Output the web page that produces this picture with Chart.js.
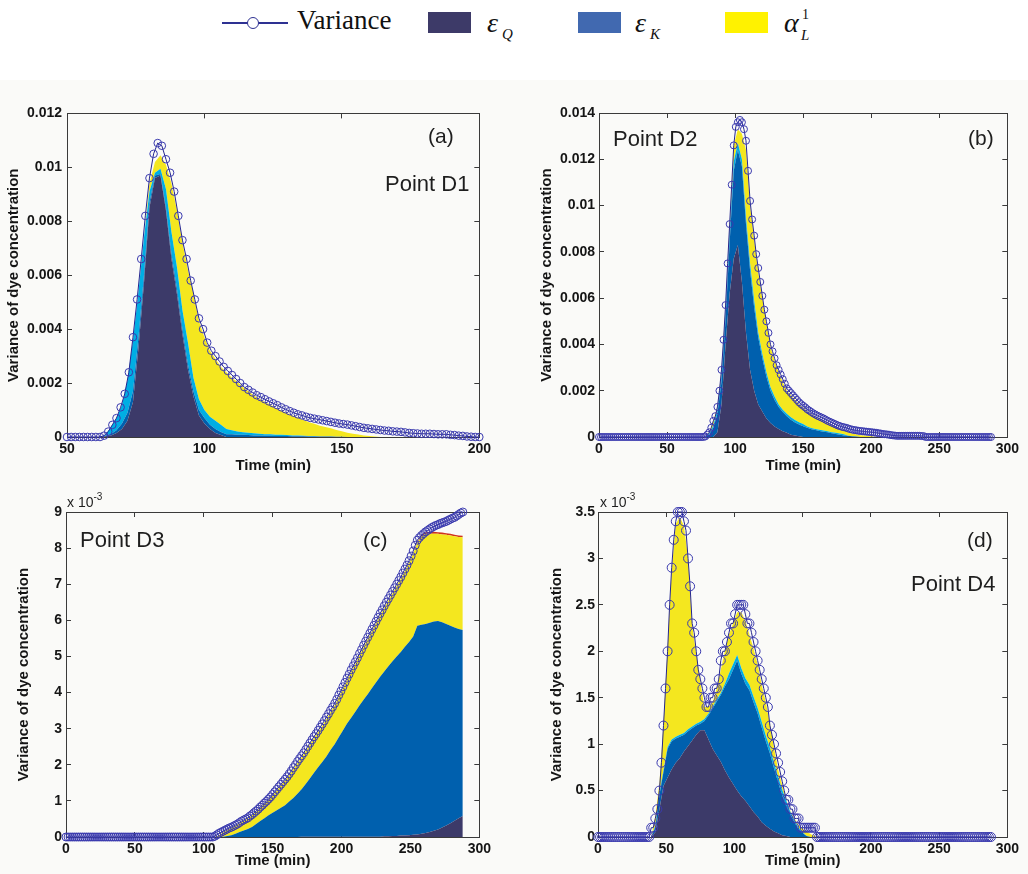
<!DOCTYPE html>
<html>
<head>
<meta charset="utf-8">
<script src="https://cdn.jsdelivr.net/npm/chart.js@4.4.1/dist/chart.umd.min.js"></script>
<style>
  body { margin:0; width:1028px; height:874px; position:relative; overflow:hidden; background:#ffffff; font-family:"Liberation Sans", Arial, sans-serif; }
  #bg { position:absolute; left:0; top:80px; width:1028px; height:794px; background:#fafaf8; }
  canvas { position:absolute; }
  .lbl { position:absolute; white-space:nowrap; line-height:1; color:#1e1e1e; font-family:"Liberation Sans", Arial, sans-serif; }
  .leg { position:absolute; white-space:nowrap; line-height:1; color:#111; font-family:"Liberation Serif", "Times New Roman", serif; }
  .box { position:absolute; width:43px; height:21px; }
</style>
</head>
<body>
<div id="bg"></div>

<!-- legend -->
<div style="position:absolute;left:222px;top:22px;width:66px;height:2px;background:#2e3192;"></div>
<div style="position:absolute;left:247px;top:17px;width:10px;height:10px;border:1.5px solid #2e3192;border-radius:50%;background:#fff;"></div>
<div class="leg" style="left:297px;top:7px;font-size:27px;">Variance</div>
<div class="box" style="left:428px;top:12px;background:#3d3a68;"></div>
<div class="leg" style="left:487px;top:9px;font-size:28px;font-style:italic;">ε</div>
<div class="leg" style="left:502px;top:27px;font-size:15px;font-style:italic;">Q</div>
<div class="box" style="left:578px;top:12px;background:#4169b0;"></div>
<div class="leg" style="left:635px;top:9px;font-size:28px;font-style:italic;">ε</div>
<div class="leg" style="left:650px;top:27px;font-size:15px;font-style:italic;">K</div>
<div class="box" style="left:725px;top:12px;background:#fff200;"></div>
<div class="leg" style="left:784px;top:9px;font-size:28px;font-style:italic;">α</div>
<div class="leg" style="left:802px;top:8px;font-size:14px;">1</div>
<div class="leg" style="left:801px;top:28px;font-size:15px;font-style:italic;">L</div>

<canvas id="ca" width="500" height="385" style="left:0px;top:95px;"></canvas>
<canvas id="cb" width="508" height="385" style="left:520px;top:95px;"></canvas>
<canvas id="cc" width="500" height="384" style="left:0px;top:490px;"></canvas>
<canvas id="cd" width="508" height="384" style="left:520px;top:490px;"></canvas>

<!-- panel labels -->
<div class="lbl" style="left:428px;top:125px;font-size:21px;">(a)</div>
<div class="lbl" style="left:385px;top:173px;font-size:22px;">Point D1</div>
<div class="lbl" style="left:613px;top:128px;font-size:22px;">Point D2</div>
<div class="lbl" style="left:968px;top:127px;font-size:21px;">(b)</div>
<div class="lbl" style="left:80px;top:529px;font-size:22px;">Point D3</div>
<div class="lbl" style="left:363px;top:529px;font-size:21px;">(c)</div>
<div class="lbl" style="left:967px;top:529px;font-size:21px;">(d)</div>
<div class="lbl" style="left:911px;top:573px;font-size:22px;">Point D4</div>
<div class="lbl" style="left:67px;top:495px;font-size:14px;">x 10<span style="position:relative;top:-7px;font-size:10px;">-3</span></div>
<div class="lbl" style="left:600px;top:495px;font-size:14px;">x 10<span style="position:relative;top:-7px;font-size:10px;">-3</span></div>

<script>
// ================= DATA =================
// ---- Variance (markers), sampled every 1.5 min ----
const timesVarA = [
  50,51.5,53,54.5,56,57.5,59,60.5,62,63.5,
  65,66.5,68,69.5,71,72.5,74,75.5,77,78.5,
  80,81.5,83,84.5,86,87.5,89,90.5,92,93.5,
  95,96.5,98,99.5,101,102.5,104,105.5,107,108.5,
  110,111.5,113,114.5,116,117.5,119,120.5,122,123.5,
  125,126.5,128,129.5,131,132.5,134,135.5,137,138.5,
  140,141.5,143,144.5,146,147.5,149,150.5,152,153.5,
  155,156.5,158,159.5,161,162.5,164,165.5,167,168.5,
  170,171.5,173,174.5,176,177.5,179,180.5,182,183.5,
  185,186.5,188,189.5,191,192.5,194,195.5,197,198.5,
  200];
const varianceA = [
  0,0,0,0,0,0,0,0,0,0.00005,
  0.0002,0.00045,0.0007,0.0011,0.0016,0.0024,0.0037,0.0051,0.0066,0.0082,
  0.0096,0.0105,0.0109,0.0108,0.0103,0.0098,0.0091,0.0082,0.0073,0.0066,
  0.0058,0.0051,0.0044,0.0040,0.0035,0.0032,0.0030,0.0028,0.0026,0.00245,
  0.0023,0.00215,0.002,0.00185,0.00175,0.00165,0.00155,0.00148,0.0014,0.00132,
  0.00125,0.00118,0.0011,0.00103,0.00096,0.0009,0.00084,0.0008,0.00075,0.00071,
  0.00068,0.00065,0.00062,0.00059,0.00056,0.00053,0.0005,0.00048,0.00046,0.00043,
  0.0004,0.00037,0.00034,0.00032,0.0003,0.00028,0.00026,0.00024,0.00023,0.00021,
  0.0002,0.00019,0.00017,0.00015,0.00014,0.00013,0.00012,0.00012,0.00012,0.00011,
  0.0001,0.0001,0.0001,0.00008,0.00007,0.00005,0.00004,0.00002,0.00001,0,
  0];

const timesVarBCD = [
  0,1.5,3,4.5,6,7.5,9,10.5,12,13.5,
  15,16.5,18,19.5,21,22.5,24,25.5,27,28.5,
  30,31.5,33,34.5,36,37.5,39,40.5,42,43.5,
  45,46.5,48,49.5,51,52.5,54,55.5,57,58.5,
  60,61.5,63,64.5,66,67.5,69,70.5,72,73.5,
  75,76.5,78,79.5,81,82.5,84,85.5,87,88.5,
  90,91.5,93,94.5,96,97.5,99,100.5,102,103.5,
  105,106.5,108,109.5,111,112.5,114,115.5,117,118.5,
  120,121.5,123,124.5,126,127.5,129,130.5,132,133.5,
  135,136.5,138,139.5,141,142.5,144,145.5,147,148.5,
  150,151.5,153,154.5,156,157.5,159,160.5,162,163.5,
  165,166.5,168,169.5,171,172.5,174,175.5,177,178.5,
  180,181.5,183,184.5,186,187.5,189,190.5,192,193.5,
  195,196.5,198,199.5,201,202.5,204,205.5,207,208.5,
  210,211.5,213,214.5,216,217.5,219,220.5,222,223.5,
  225,226.5,228,229.5,231,232.5,234,235.5,237,238.5,
  240,241.5,243,244.5,246,247.5,249,250.5,252,253.5,
  255,256.5,258,259.5,261,262.5,264,265.5,267,268.5,
  270,271.5,273,274.5,276,277.5,279,280.5,282,283.5,
  285,286.5,288];
const varianceB = [
  0,0,0,0,0,0,0,0,0,0,
  0,0,0,0,0,0,0,0,0,0,
  0,0,0,0,0,0,0,0,0,0,
  0,0,0,0,0,0,0,0,0,0,
  0,0,0,0,0,0,0,0,0,0,
  0,0,0.00002,0.0001,0.0002,0.0004,0.0007,0.0009,0.0013,0.002,
  0.0029,0.0042,0.0057,0.0075,0.0092,0.0109,0.0126,0.0134,0.0136,0.0137,
  0.0136,0.0133,0.0128,0.0115,0.0102,0.0094,0.0087,0.0079,0.0073,0.0067,
  0.0061,0.0055,0.0050,0.0045,0.0040,0.0037,0.0034,0.0031,0.0029,0.0027,
  0.0025,0.0023,0.0021,0.002,0.0019,0.0018,0.0017,0.0016,0.0015,0.00142,
  0.00135,0.00128,0.0012,0.00114,0.00108,0.00102,0.00097,0.00092,0.00088,0.00084,
  0.0008,0.00075,0.0007,0.00066,0.00062,0.00058,0.00054,0.0005,0.00047,0.00044,
  0.00042,0.0004,0.00037,0.00034,0.00032,0.0003,0.00029,0.00027,0.00026,0.00025,
  0.00024,0.00023,0.00022,0.00021,0.0002,0.00019,0.00018,0.00016,0.00015,0.00013,
  0.00012,0.00011,0.0001,0.00008,0.00007,0.00006,0.00005,0.00005,0.00005,0.00005,
  0.00005,0.00005,0.00005,0.00005,0.00005,0.00005,0.00005,0.00005,0.00004,0.00004,
  0,0,0,0,0,0,0,0,0,0,
  0,0,0,0,0,0,0,0,0,0,
  0,0,0,0,0,0,0,0,0,0,
  0,0,0];
// (values in units of 10^-3)
const varianceC = [
  0,0,0,0,0,0,0,0,0,0,
  0,0,0,0,0,0,0,0,0,0,
  0,0,0,0,0,0,0,0,0,0,
  0,0,0,0,0,0,0,0,0,0,
  0,0,0,0,0,0,0,0,0,0,
  0,0,0,0,0,0,0,0,0,0,
  0,0,0,0,0,0,0,0,0,0,
  0,0,0.02,0.06,0.1,0.13,0.16,0.19,0.22,0.25,
  0.27,0.3,0.33,0.36,0.4,0.44,0.47,0.5,0.53,0.58,
  0.62,0.67,0.72,0.77,0.83,0.88,0.94,0.99,1.05,1.11,
  1.18,1.25,1.32,1.39,1.46,1.53,1.6,1.67,1.75,1.83,
  1.92,2.0,2.09,2.17,2.25,2.33,2.42,2.51,2.6,2.69,
  2.78,2.86,2.95,3.04,3.13,3.22,3.32,3.41,3.51,3.6,
  3.7,3.81,3.93,4.04,4.16,4.28,4.4,4.51,4.63,4.74,
  4.85,4.96,5.08,5.19,5.31,5.42,5.53,5.64,5.75,5.86,
  5.97,6.08,6.19,6.29,6.4,6.5,6.6,6.7,6.8,6.9,
  7.0,7.1,7.2,7.31,7.42,7.53,7.65,7.78,7.92,8.08,
  8.22,8.29,8.35,8.4,8.45,8.49,8.53,8.57,8.6,8.63,
  8.65,8.68,8.7,8.72,8.74,8.77,8.8,8.83,8.85,8.89,
  8.93,8.97,9.0];
// (values in units of 10^-3)
const varianceD = [
  0,0,0,0,0,0,0,0,0,0,
  0,0,0,0,0,0,0,0,0,0,
  0,0,0,0,0,0,0.1,0.1,0.2,0.3,
  0.5,0.8,1.2,1.6,2.0,2.5,2.9,3.2,3.4,3.5,
  3.5,3.5,3.4,3.3,3.0,2.7,2.3,2.2,2.0,1.8,
  1.7,1.6,1.5,1.4,1.4,1.5,1.5,1.6,1.6,1.7,
  1.9,2.0,2.0,2.1,2.2,2.3,2.3,2.4,2.5,2.5,
  2.5,2.5,2.4,2.3,2.3,2.2,2.1,2.0,1.9,1.8,
  1.7,1.6,1.5,1.4,1.2,1.1,1.0,0.9,0.8,0.7,
  0.6,0.5,0.4,0.4,0.3,0.3,0.2,0.2,0.2,0.1,
  0.1,0.1,0.1,0.1,0.1,0.1,0.1,0,0,0,
  0,0,0,0,0,0,0,0,0,0,
  0,0,0,0,0,0,0,0,0,0,
  0,0,0,0,0,0,0,0,0,0,
  0,0,0,0,0,0,0,0,0,0,
  0,0,0,0,0,0,0,0,0,0,
  0,0,0,0,0,0,0,0,0,0,
  0,0,0,0,0,0,0,0,0,0,
  0,0,0,0,0,0,0,0,0,0,
  0,0,0];

// ---- Stacked contributions ----
// Panel (a): Point D1
const timesA = [50,52,54,56,58,60,62,64,66,68,70,72,74,76,78,80,82,84,86,88,90,92,94,96,98,100,102,104,106,108,110,112,114,116,118,120,122,124,126,128,130,132,134,136,138,140,142,144,146,148,150,152,154,156,158,160,162,164,166,168,170,172,174,176,178,180,182,184,186,188,190,192,194,196,198,200];
const epsQA = [0,0,0,0,0,0,0,0.00003,0.00006,0.00015,0.0003,0.0006,0.0013,0.0033,0.0057,0.0085,0.0096,0.0097,0.0084,0.0066,0.0053,0.0038,0.0025,0.0015,0.0008,0.0005,0.0003,0.00015,0.00007,0,0,0,0,0,0,0,0,0,0,0,0,0,0,0,0,0,0,0,0,0,0,0,0,0,0,0,0,0,0,0,0,0,0,0,0,0,0,0,0,0,0,0,0,0,0,0];
const epsKA = [0,0,0,0,0,0,0,0.00002,0.00005,0.0001,0.0002,0.0003,0.0004,0.0004,0.0003,0.0002,0.0001,0.00005,0.0001,0.0002,0.0002,0.0002,0.0002,0.0002,0.0002,0.0002,0.00015,0.00015,0.00012,0.0001,0.0001,0.00008,0.00008,0.00007,0.00006,0.00006,0.00005,0.00005,0.00004,0.00004,0.00004,0.00003,0.00003,0.00003,0.00002,0.00002,0.00002,0.00002,0.00002,0.00001,0.00001,0,0,0,0,0,0,0,0,0,0,0,0,0,0,0,0,0,0,0,0,0,0,0,0,0];
const otherA = [0,0,0,0,0,0,0,0.00003,0.00027,0.00045,0.0007,0.0012,0.0019,0.0017,0.0014,0.0004,0.0001,0.0002,0.0007,0.0008,0.0008,0.0007,0.0008,0.0005,0.0004,0.0003,0.0003,0.0003,0.00026,0.0002,0.00015,0.00012,0.0001,0.00009,0.00008,0.00006,0.00005,0.00005,0.00004,0.00004,0.00003,0.00003,0.00003,0.00002,0.00002,0.00002,0,0,0,0,0,0,0,0,0,0,0,0,0,0,0,0,0,0,0,0,0,0,0,0,0,0,0,0,0,0];
const alphaLA = [0,0,0,0,0,0,0,0,0,0,0,0,0,0,0,0.0003,0.0004,0.0005,0.0009,0.0018,0.0021,0.0025,0.0027,0.0031,0.0029,0.0027,0.00245,0.0023,0.00215,0.0021,0.00195,0.00185,0.00167,0.00154,0.0014,0.0013,0.0012,0.0011,0.001,0.0009,0.00082,0.00074,0.00066,0.00058,0.00051,0.00045,0.0004,0.00035,0.0003,0.00025,0.0002,0.00016,0.00012,0.00009,0.00006,0.00004,0.00002,0,0,0,0,0,0,0,0,0,0,0,0,0,0,0,0,0,0,0];

// Panels (b), (c), (d)
const timesBCD = [0,3,6,9,12,15,18,21,24,27,30,33,36,39,42,45,48,51,54,57,60,63,66,69,72,75,78,81,84,87,90,93,96,99,102,105,108,111,114,117,120,123,126,129,132,135,138,141,144,147,150,153,156,159,162,165,168,171,174,177,180,183,186,189,192,195,198,201,204,207,210,213,216,219,222,225,228,231,234,237,240,243,246,249,252,255,258,261,264,267,270,273,276,279,282,285,288];

// Panel (b): Point D2
const epsQB = [0,0,0,0,0,0,0,0,0,0,0,0,0,0,0,0,0,0,0,0,0,0,0,0,0,0,0,0,0,0.0002,0.0014,0.0040,0.0062,0.0077,0.0083,0.0067,0.0045,0.0029,0.0020,0.0014,0.0011,0.0008,0.0006,0.00045,0.00035,0.00025,0.00018,0.0001,0.00006,0.00003,0,0,0,0,0,0,0,0,0,0,0,0,0,0,0,0,0,0,0,0,0,0,0,0,0,0,0,0,0,0,0,0,0,0,0,0,0,0,0,0,0,0,0,0,0,0,0];
const epsKB = [0,0,0,0,0,0,0,0,0,0,0,0,0,0,0,0,0,0,0,0,0,0,0,0,0,0,0,0.0001,0.0004,0.0008,0.0010,0.0011,0.0022,0.0038,0.0041,0.0050,0.0047,0.0043,0.0036,0.0029,0.0023,0.0018,0.0014,0.00115,0.00095,0.00083,0.00072,0.00065,0.00057,0.00051,0.00046,0.0004,0.00034,0.0003,0.00026,0.00023,0.0002,0.00016,0.00013,0.0001,0.00007,0.00005,0.00003,0.00002,0,0,0,0,0,0,0,0,0,0,0,0,0,0,0,0,0,0,0,0,0,0,0,0,0,0,0,0,0,0,0,0,0];
const otherB = [0,0,0,0,0,0,0,0,0,0,0,0,0,0,0,0,0,0,0,0,0,0,0,0,0,0,0,0.00005,0.0001,0.0002,0.0003,0.0004,0.0005,0.0004,0.0003,0.0003,0.0003,0.0003,0.0003,0.0002,0.0002,0.0002,0.00015,0.00015,0.0001,0.0001,0.0001,0.0001,0.0001,0.0001,0.0001,0.00005,0.00005,0.00005,0.00005,0.00005,0.00005,0.00005,0.00005,0.00005,0.00005,0,0,0,0,0,0,0,0,0,0,0,0,0,0,0,0,0,0,0,0,0,0,0,0,0,0,0,0,0,0,0,0,0,0,0,0];
const alphaLB = [0,0,0,0,0,0,0,0,0,0,0,0,0,0,0,0,0,0,0,0,0,0,0,0,0,0,0,0.00005,0.0002,0.0001,0.0002,0.0002,0.0003,0.0007,0.0006,0.0011,0.0029,0.0025,0.0026,0.0026,0.0024,0.0021,0.00175,0.00155,0.0014,0.0012,0.001,0.00095,0.00087,0.00076,0.0007,0.00065,0.00059,0.00052,0.00046,0.0004,0.00035,0.00031,0.00026,0.00021,0.00018,0.00015,0.00012,0.0001,0.00008,0.00006,0.00004,0.00002,0,0,0,0,0,0,0,0,0,0,0,0,0,0,0,0,0,0,0,0,0,0,0,0,0,0,0,0,0];

// Panel (c): Point D3 (values in units of 10^-3)
const epsQC = [0,0,0,0,0,0,0,0,0,0,0,0,0,0,0,0,0,0,0,0,0,0,0,0,0,0,0,0,0,0,0,0,0,0,0,0,0,0,0,0,0,0,0,0,0,0,0,0,0,0,0,0,0,0,0,0,0,0.01,0.01,0.01,0.01,0.01,0.01,0.01,0.01,0.01,0.01,0.01,0.01,0.01,0.01,0.01,0.01,0.01,0.01,0.01,0.01,0.02,0.02,0.03,0.03,0.04,0.04,0.05,0.06,0.07,0.09,0.11,0.14,0.17,0.21,0.26,0.32,0.38,0.45,0.52,0.58];
const epsKC = [0,0,0,0,0,0,0,0,0,0,0,0,0,0,0,0,0,0,0,0,0,0,0,0,0,0,0,0,0,0,0,0,0,0,0,0,0,0,0.01,0.03,0.05,0.09,0.14,0.18,0.22,0.28,0.36,0.44,0.52,0.6,0.67,0.74,0.81,0.88,0.98,1.08,1.2,1.31,1.46,1.61,1.77,1.92,2.07,2.22,2.4,2.56,2.75,2.94,3.13,3.29,3.46,3.63,3.79,3.94,4.11,4.27,4.43,4.56,4.71,4.84,4.97,5.08,5.23,5.35,5.49,5.78,5.79,5.79,5.79,5.8,5.77,5.69,5.58,5.47,5.35,5.24,5.15];
const alphaLC = [0,0,0,0,0,0,0,0,0,0,0,0,0,0,0,0,0,0,0,0,0,0,0,0,0,0,0,0,0,0,0,0,0,0,0,0,0,0.05,0.12,0.17,0.2,0.22,0.24,0.27,0.29,0.32,0.34,0.37,0.4,0.43,0.48,0.55,0.62,0.69,0.74,0.8,0.85,0.89,0.91,0.94,0.96,0.98,1.0,1.04,1.05,1.08,1.12,1.16,1.21,1.28,1.33,1.39,1.46,1.53,1.58,1.64,1.7,1.77,1.82,1.88,1.95,2.03,2.1,2.2,2.3,2.3,2.45,2.5,2.47,2.43,2.42,2.43,2.47,2.5,2.53,2.55,2.57];
const residualC = [0,0,0,0,0,0,0,0,0,0,0,0,0,0,0,0,0,0,0,0,0,0,0,0,0,0,0,0,0,0,0,0,0,0,0,0,0,0,0,0,0,0,0,0,0,0,0,0,0,0,0,0,0,0,0,0,0,0,0,0,0,0,0,0,0,0,0,0,0,0,0,0,0,0,0,0,0,0,0,0,0,0,0,0,0,0.02,0.04,0.04,0.05,0.05,0.04,0.05,0.04,0.05,0.04,0.04,0.04];

// Panel (d): Point D4 (values in units of 10^-3)
const epsQD = [0,0,0,0,0,0,0,0,0,0,0,0,0,0,0.05,0.3,0.55,0.64,0.73,0.8,0.85,0.92,0.98,1.04,1.1,1.15,1.15,1.05,0.95,0.88,0.81,0.72,0.64,0.57,0.5,0.44,0.39,0.33,0.27,0.22,0.16,0.12,0.09,0.06,0.04,0.02,0.01,0,0,0,0,0,0,0,0,0,0,0,0,0,0,0,0,0,0,0,0,0,0,0,0,0,0,0,0,0,0,0,0,0,0,0,0,0,0,0,0,0,0,0,0,0,0,0,0,0,0];
const epsKD = [0,0,0,0,0,0,0,0,0,0,0,0,0,0,0.05,0.15,0.15,0.31,0.3,0.26,0.23,0.18,0.16,0.13,0.1,0.07,0.1,0.26,0.43,0.58,0.72,0.9,1.06,1.23,1.4,1.32,1.26,1.25,1.18,1.11,1.02,0.91,0.81,0.68,0.55,0.43,0.32,0.24,0.16,0.08,0.04,0.01,0,0,0,0,0,0,0,0,0,0,0,0,0,0,0,0,0,0,0,0,0,0,0,0,0,0,0,0,0,0,0,0,0,0,0,0,0,0,0,0,0,0,0,0,0];
const otherD = [0,0,0,0,0,0,0,0,0,0,0,0,0,0,0.02,0.03,0.02,0.02,0.02,0.02,0.02,0.02,0.02,0.02,0.02,0.02,0.02,0.02,0.02,0.02,0.02,0.03,0.06,0.06,0.06,0.06,0.06,0.06,0.06,0.06,0.06,0.06,0.06,0.06,0.06,0.06,0.06,0.03,0.02,0.02,0.01,0,0,0,0,0,0,0,0,0,0,0,0,0,0,0,0,0,0,0,0,0,0,0,0,0,0,0,0,0,0,0,0,0,0,0,0,0,0,0,0,0,0,0,0,0,0];
const alphaLD = [0,0,0,0,0,0,0,0,0,0,0,0,0,0,0.1,0.1,0.5,1.07,1.82,2.29,2.35,2.23,1.85,1.09,0.75,0.43,0.13,0.07,0.05,0.12,0.25,0.35,0.42,0.44,0.46,0.6,0.62,0.54,0.52,0.47,0.4,0.36,0.26,0.16,0.08,0.05,0.01,0.01,0.02,0.03,0.04,0.05,0.03,0.01,0,0,0,0,0,0,0,0,0,0,0,0,0,0,0,0,0,0,0,0,0,0,0,0,0,0,0,0,0,0,0,0,0,0,0,0,0,0,0,0,0,0,0];

// ---- Tick values and labels ----
const xTicksA = [50,100,150,200];
const xTickLabelsA = ['50','100','150','200'];
const xTicksBCD = [0,50,100,150,200,250,300];
const xTickLabelsBCD = ['0','50','100','150','200','250','300'];
const yTicksA = [0,0.002,0.004,0.006,0.008,0.010,0.012];
const yTickLabelsA = ['0','0.002','0.004','0.006','0.008','0.01','0.012'];
const yTicksB = [0,0.002,0.004,0.006,0.008,0.010,0.012,0.014];
const yTickLabelsB = ['0','0.002','0.004','0.006','0.008','0.01','0.012','0.014'];
const yTicksC = [0,1,2,3,4,5,6,7,8,9];
const yTickLabelsC = ['0','1','2','3','4','5','6','7','8','9'];
const yTicksD = [0,0.5,1,1.5,2,2.5,3,3.5];
const yTickLabelsD = ['0','0.5','1','1.5','2','2.5','3','3.5'];

// ================= STYLE =================
const C_NAVY = '#3c3a69', C_BLUE = '#0060ae', C_CYAN = '#00aee4', C_YELLOW = '#f4e71f', C_RED = '#d0341c';
const C_LINE = '#24258f', C_MARK = '#3a3aae', C_AXIS = '#3a3a3a', C_TXT = '#151515';
const FAM = "'Liberation Sans', Arial, sans-serif";
Chart.defaults.font.family = FAM;

function pts(times, vals) { return times.map((t, i) => ({ x: t, y: vals[i] })); }

function panel(id, cfg) {
  const datasets = [{
    label: 'Variance', data: pts(cfg.varTimes, cfg.variance), stack: 'v',
    xAxisID: 'x', yAxisID: 'y', borderColor: C_LINE, borderWidth: 1,
    pointRadius: cfg.r, pointBorderColor: C_MARK, pointBackgroundColor: 'rgba(0,0,0,0)',
    pointBorderWidth: 1, fill: false, clip: false, tension: 0
  }];
  cfg.layers.forEach((L, i) => datasets.push({
    label: L.name, data: pts(cfg.times, L.data), stack: 's',
    xAxisID: 'x', yAxisID: 'y', borderWidth: 0, borderColor: 'rgba(0,0,0,0)',
    backgroundColor: L.color, pointRadius: 0, fill: i === 0 ? 'origin' : '-1', tension: 0
  }));
  const grid = { drawOnChartArea: false, drawTicks: true, tickLength: -5, color: C_AXIS, lineWidth: 1 };
  const border = { display: true, color: C_AXIS, width: 1 };
  const tickFont = { size: 14, weight: 'bold', family: FAM };
  const titleFont = { size: 15, weight: 'bold', family: FAM };
  new Chart(document.getElementById(id), {
    type: 'line',
    data: { datasets },
    options: {
      responsive: false, animation: false, events: [],
      layout: { padding: { top: cfg.padTop, right: cfg.padRight, left: 0, bottom: 0 } },
      plugins: { legend: { display: false }, tooltip: { enabled: false } },
      scales: {
        x: {
          type: 'linear', position: 'bottom', min: cfg.xmin, max: cfg.xmax,
          afterBuildTicks: s => { s.ticks = cfg.xTicks.map(v => ({ value: v })); },
          afterFit: s => { s.height = cfg.xh; },
          ticks: { autoSkip: false, maxRotation: 0, padding: 9, color: C_TXT, font: tickFont,
                   callback: (v, i) => cfg.xLabels[i] },
          title: { display: true, text: 'Time (min)', color: C_TXT, font: titleFont,
                   padding: { top: 0, bottom: cfg.xTitlePad } },
          grid, border
        },
        x2: {
          type: 'linear', position: 'top', min: cfg.xmin, max: cfg.xmax,
          afterBuildTicks: s => { s.ticks = cfg.xTicks.map(v => ({ value: v })); },
          afterFit: s => { s.height = 0; },
          ticks: { display: false }, grid, border
        },
        y: {
          type: 'linear', position: 'left', stacked: true, min: cfg.ymin, max: cfg.ymax,
          afterBuildTicks: s => { s.ticks = cfg.yTicks.map(v => ({ value: v })); },
          afterFit: s => { s.width = cfg.yw; },
          ticks: { autoSkip: false, padding: cfg.yTickPad, color: C_TXT, font: tickFont,
                   callback: (v, i) => cfg.yLabels[i] },
          title: { display: true, text: 'Variance of dye concentration', color: C_TXT, font: titleFont,
                   padding: { top: cfg.yTitlePad, bottom: 0 } },
          grid, border
        },
        y2: {
          type: 'linear', position: 'right', min: cfg.ymin, max: cfg.ymax,
          afterBuildTicks: s => { s.ticks = cfg.yTicks.map(v => ({ value: v })); },
          afterFit: s => { s.width = 0; },
          ticks: { display: false }, grid, border
        }
      }
    }
  });
}

panel('ca', {
  varTimes: timesVarA, variance: varianceA, times: timesA, r: 3.8,
  layers: [
    { name: 'εQ', data: epsQA, color: C_NAVY },
    { name: 'εK', data: epsKA, color: C_BLUE },
    { name: 'other', data: otherA, color: C_CYAN },
    { name: 'αL1', data: alphaLA, color: C_YELLOW }
  ],
  xmin: 50, xmax: 200, xTicks: xTicksA, xLabels: xTickLabelsA,
  ymin: 0, ymax: 0.012, yTicks: yTicksA, yLabels: yTickLabelsA,
  padTop: 18, padRight: 20, xh: 43, yw: 67, yTickPad: 10, yTitlePad: 5, xTitlePad: 5
});

panel('cb', {
  varTimes: timesVarBCD, variance: varianceB, times: timesBCD, r: 3.5,
  layers: [
    { name: 'εQ', data: epsQB, color: C_NAVY },
    { name: 'εK', data: epsKB, color: C_BLUE },
    { name: 'other', data: otherB, color: C_CYAN },
    { name: 'αL1', data: alphaLB, color: C_YELLOW }
  ],
  xmin: 0, xmax: 300, xTicks: xTicksBCD, xLabels: xTickLabelsBCD,
  ymin: 0, ymax: 0.014, yTicks: yTicksB, yLabels: yTickLabelsB,
  padTop: 18, padRight: 15, xh: 43, yw: 79, yTickPad: 9, yTitlePad: 18, xTitlePad: 5
});

panel('cc', {
  varTimes: timesVarBCD, variance: varianceC, times: timesBCD, r: 4,
  layers: [
    { name: 'εQ', data: epsQC, color: C_NAVY },
    { name: 'εK', data: epsKC, color: C_BLUE },
    { name: 'αL1', data: alphaLC, color: C_YELLOW },
    { name: 'residual', data: residualC, color: C_RED }
  ],
  xmin: 0, xmax: 300, xTicks: xTicksBCD, xLabels: xTickLabelsBCD,
  ymin: 0, ymax: 9, yTicks: yTicksC, yLabels: yTickLabelsC,
  padTop: 22, padRight: 20, xh: 37, yw: 66, yTickPad: 9, yTitlePad: 15, xTitlePad: 4
});

panel('cd', {
  varTimes: timesVarBCD, variance: varianceD, times: timesBCD, r: 4.5,
  layers: [
    { name: 'εQ', data: epsQD, color: C_NAVY },
    { name: 'εK', data: epsKD, color: C_BLUE },
    { name: 'other', data: otherD, color: C_CYAN },
    { name: 'αL1', data: alphaLD, color: C_YELLOW }
  ],
  xmin: 0, xmax: 300, xTicks: xTicksBCD, xLabels: xTickLabelsBCD,
  ymin: 0, ymax: 3.5, yTicks: yTicksD, yLabels: yTickLabelsD,
  padTop: 22, padRight: 15, xh: 37, yw: 78, yTickPad: 8, yTitlePad: 28, xTitlePad: 4
});
</script>
</body>
</html>
